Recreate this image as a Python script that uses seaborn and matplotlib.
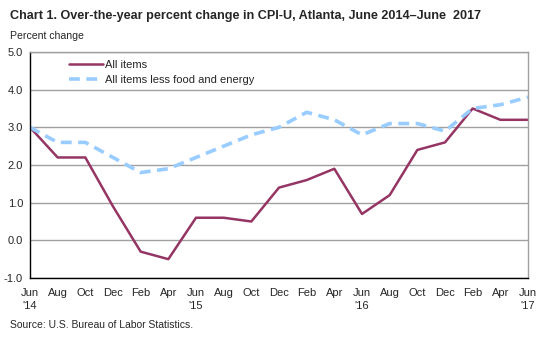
import matplotlib
matplotlib.use("Agg")
import matplotlib.pyplot as plt
import seaborn as sns
import pandas as pd
from matplotlib.lines import Line2D

months = ["Jun\n'14", "Aug", "Oct", "Dec", "Feb", "Apr",
          "Jun\n'15", "Aug", "Oct", "Dec", "Feb", "Apr",
          "Jun\n'16", "Aug", "Oct", "Dec", "Feb", "Apr",
          "Jun\n'17"]
all_items = [3.0, 2.2, 2.2, 0.9, -0.3, -0.5, 0.6, 0.6, 0.5, 1.4, 1.6, 1.9,
             0.7, 1.2, 2.4, 2.6, 3.5, 3.2, 3.2]
core_items = [3.0, 2.6, 2.6, 2.2, 1.8, 1.9, 2.2, 2.5, 2.8, 3.0, 3.4, 3.2,
              2.8, 3.1, 3.1, 2.9, 3.5, 3.6, 3.8]
y_ticks = [-1.0, 0.0, 1.0, 2.0, 3.0, 4.0, 5.0]

sns.set_theme(style="white")
plt.rcParams["font.family"] = ["Liberation Sans", "DejaVu Sans"]

df = pd.DataFrame({
    "idx": list(range(len(months))) * 2,
    "value": all_items + core_items,
    "series": ["All items"] * len(months) + ["All items less food and energy"] * len(months),
})

fig = plt.figure(figsize=(5.46, 3.37), dpi=100)
ax = fig.add_axes([30 / 546, 1 - 278 / 337, (528 - 30) / 546, (278 - 52) / 337])

palette = {"All items": "#953563", "All items less food and energy": "#99CCFF"}
sns.lineplot(data=df, x="idx", y="value", hue="series", style="series",
             palette=palette,
             dashes={"All items": "", "All items less food and energy": (3, 1.8)},
             ax=ax, legend=False)
for line, lw in zip(ax.lines, [1.8, 2.6]):
    line.set_linewidth(lw)

ax.set_xlim(0, len(months) - 1)
ax.set_ylim(-1.0, 5.0)
ax.set_yticks(y_ticks)
ax.set_yticklabels([f"{v:.1f}" for v in y_ticks], fontsize=8)
ax.set_xticks(range(len(months)))
ax.set_xticklabels(months, fontsize=8, linespacing=1.45)
ax.set_xlabel("")
ax.set_ylabel("")
ax.grid(axis="y", color="#A0A0A0", linewidth=1)
ax.set_axisbelow(True)

for side in ["top", "right"]:
    ax.spines[side].set_color("#A0A0A0")
    ax.spines[side].set_linewidth(1)
for side in ["left", "bottom"]:
    ax.spines[side].set_color("black")
    ax.spines[side].set_linewidth(1)

ax.tick_params(axis="x", direction="in", length=4, width=1, color="black", pad=7)
ax.tick_params(axis="y", length=0, pad=5)

# legend at the top left of the plot area
handles = [Line2D([], [], color=palette["All items"], lw=1.8),
           Line2D([], [], color=palette["All items less food and energy"], lw=2.6, dashes=(3, 1.8))]
ax.legend(handles, ["All items", "All items less food and energy"],
          loc="upper left", bbox_to_anchor=(0.062, 1.0), frameon=False,
          fontsize=8, handlelength=3.1, handletextpad=0.2, labelspacing=0.5,
          borderaxespad=0.3)

fig.text(10 / 546, 1 - 16 / 337, "Chart 1. Over-the-year percent change in CPI-U, Atlanta, June 2014\u2013June  2017",
         fontsize=9.1, fontweight="bold", va="center", ha="left")
fig.text(10 / 546, 1 - 36 / 337, "Percent change", fontsize=7.6, va="center", ha="left")
fig.text(10 / 546, 1 - 325 / 337, "Source: U.S. Bureau of Labor Statistics.", fontsize=7.5, va="center", ha="left")

fig.savefig("out.png", dpi=100)
